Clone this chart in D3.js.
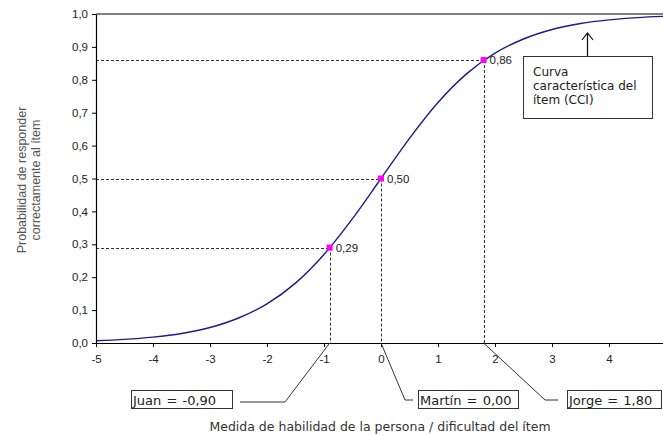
<!DOCTYPE html>
<html>
<head>
<meta charset="utf-8">
<script src="https://cdn.jsdelivr.net/npm/d3@7"></script>
<style>
  body { margin: 0; background: #fff; }
  svg { display: block; }
  .tick text { font-family: "Liberation Sans", Arial, sans-serif; font-size: 11.5px; fill: #222; }
  .box text { font-family: "DejaVu Sans", Verdana, sans-serif; font-size: 12px; fill: #222; }
  .box text.call { font-size: 13px; word-spacing: 1px; }
</style>
</head>
<body>
<div id="chart"></div>
<script>
// size of the picture
var width = 663;
var height = 435;
var margin = { top: 14, right: -3, bottom: 92, left: 96 };

// item characteristic curve
var theta = [-5, -4.5, -4, -3.5, -3, -2.5, -2, -1.5, -1, -0.5, 0, 0.5, 1, 1.5, 2, 2.5, 3, 3.5, 4, 4.5, 5];
var prob = [0.007, 0.011, 0.018, 0.029, 0.047, 0.076, 0.119, 0.182, 0.269, 0.378, 0.5, 0.622, 0.731, 0.818, 0.881, 0.924, 0.953, 0.971, 0.982, 0.989, 0.993];

// the three persons
var personNames = ["Juan", "Martín", "Jorge"];
var personTheta = [-0.9, 0.0, 1.8];
var personProb = [0.29, 0.50, 0.86];
var probLabels = ["0,29", "0,50", "0,86"];
var personLabels = ["Juan = -0,90", "Martín = 0,00", "Jorge = 1,80"];

var xTicks = [-5, -4, -3, -2, -1, 0, 1, 2, 3, 4];
var xTickLabels = ["-5", "-4", "-3", "-2", "-1", "0", "1", "2", "3", "4"];
var yTicks = [0, 0.1, 0.2, 0.3, 0.4, 0.5, 0.6, 0.7, 0.8, 0.9, 1.0];
var yTickLabels = ["0,0", "0,1", "0,2", "0,3", "0,4", "0,5", "0,6", "0,7", "0,8", "0,9", "1,0"];

var svg = d3.select("#chart")
  .append("svg")
  .attr("width", width)
  .attr("height", height);

var x = d3.scaleLinear()
  .domain([-5, 5])
  .range([margin.left, width - margin.right]);

var y = d3.scaleLinear()
  .domain([0, 1])
  .range([height - margin.bottom, margin.top]);

svg.append("clipPath").attr("id", "clip")
  .append("rect")
  .attr("x", margin.left).attr("y", 0)
  .attr("width", width - margin.left).attr("height", height);

// top frame line
svg.append("line")
  .attr("x1", x(-5)).attr("x2", width)
  .attr("y1", y(1)).attr("y2", y(1))
  .attr("stroke", "#000").attr("stroke-width", 1);

// dashed guide lines
var guides = svg.append("g")
  .attr("stroke", "#333")
  .attr("stroke-width", 1)
  .attr("stroke-dasharray", "3,2");

personTheta.forEach(function (t, i) {
  guides.append("line")
    .attr("x1", x(-5)).attr("x2", x(t))
    .attr("y1", Math.round(y(personProb[i])) + 0.5)
    .attr("y2", Math.round(y(personProb[i])) + 0.5);
  guides.append("line")
    .attr("x1", Math.round(x(t)) + 0.5).attr("x2", Math.round(x(t)) + 0.5)
    .attr("y1", y(personProb[i])).attr("y2", y(0));
});

// curve
var line = d3.line()
  .x(function (d, i) { return x(theta[i]); })
  .y(function (d) { return y(d); })
  .curve(d3.curveMonotoneX);

svg.append("path")
  .datum(prob)
  .attr("clip-path", "url(#clip)")
  .attr("d", line)
  .attr("fill", "none")
  .attr("stroke", "#1c1c8c")
  .attr("stroke-width", 1.4);

// axes
var xAxis = svg.append("g")
  .attr("transform", "translate(0," + y(0) + ")")
  .call(d3.axisBottom(x).tickValues(xTicks)
    .tickFormat(function (d, i) { return xTickLabels[i]; })
    .tickSize(4).tickSizeOuter(0).tickPadding(8));
xAxis.select(".domain").attr("d", "M" + x(-5) + ",0.5H" + width);

var yAxis = svg.append("g")
  .attr("transform", "translate(" + x(-5) + ",0)")
  .call(d3.axisLeft(y).tickValues(yTicks)
    .tickFormat(function (d, i) { return yTickLabels[i]; })
    .tickSize(4).tickSizeOuter(0).tickPadding(4));

svg.selectAll(".domain").attr("stroke", "#000").attr("stroke-width", 1.2);
svg.selectAll(".tick line").attr("stroke", "#000");

// magenta markers and value labels
svg.selectAll("rect.pt")
  .data(personTheta)
  .enter()
  .append("rect")
  .attr("class", "pt")
  .attr("x", function (d) { return x(d) - 3; })
  .attr("y", function (d, i) { return y(personProb[i]) - 3; })
  .attr("width", 6).attr("height", 6)
  .attr("fill", "#ff00ff");

svg.selectAll("text.pl")
  .data(probLabels)
  .enter()
  .append("text")
  .attr("class", "pl")
  .attr("x", function (d, i) { return x(personTheta[i]) + 6; })
  .attr("y", function (d, i) { return y(personProb[i]) + 4; })
  .attr("font-family", "Liberation Sans, Arial, sans-serif")
  .attr("font-size", 11.5)
  .attr("fill", "#222")
  .text(function (d) { return d; });

// callout boxes under the x axis
var boxLeft = [131, 418, 567];
var boxWidth = [101, 100, 94];
var bend = [[285, 402], [405, 400], [545, 400]];
var lineEnd = [240, 413, 558];

var callouts = svg.append("g").attr("class", "box");
personTheta.forEach(function (t, i) {
  callouts.append("path")
    .attr("d", "M" + x(t) + "," + y(0) + "L" + bend[i][0] + "," + bend[i][1] + "L" + lineEnd[i] + "," + bend[i][1])
    .attr("fill", "none")
    .attr("stroke", "#333")
    .attr("stroke-width", 1);
  callouts.append("rect")
    .attr("x", boxLeft[i] + 0.5).attr("y", 390.5)
    .attr("width", boxWidth[i]).attr("height", 18)
    .attr("fill", "#fff")
    .attr("stroke", "#333");
  callouts.append("text")
    .attr("class", "call")
    .attr("x", boxLeft[i] + 2).attr("y", 404.5)
    .text(personLabels[i]);
});

// curve label box with arrow
var cci = svg.append("g").attr("class", "box");
cci.append("rect")
  .attr("x", 523.5).attr("y", 56.5)
  .attr("width", 129).attr("height", 62)
  .attr("fill", "#fff").attr("stroke", "#333");
["Curva", "característica del", "ítem (CCI)"].forEach(function (s, i) {
  cci.append("text").attr("x", 533).attr("y", 76 + i * 14).text(s);
});
cci.append("path")
  .attr("d", "M587.5,56V33M582,40L587.5,33L593,40")
  .attr("fill", "none").attr("stroke", "#111").attr("stroke-width", 1.2);

// axis titles
svg.append("text")
  .attr("x", 380).attr("y", 431)
  .attr("text-anchor", "middle")
  .attr("font-family", "DejaVu Sans, Verdana, sans-serif")
  .attr("font-size", 12.5)
  .attr("fill", "#333")
  .text("Medida de habilidad de la persona / dificultad del ítem");

var yt = svg.append("text")
  .attr("transform", "translate(26,180) rotate(-90)")
  .attr("text-anchor", "middle")
  .attr("font-family", "Liberation Sans, Arial, sans-serif")
  .attr("font-size", 12.5)
  .attr("fill", "#555");
yt.append("tspan").attr("x", 0).attr("dy", 0).text("Probabilidad de responder");
yt.append("tspan").attr("x", 0).attr("dy", 14).text("correctamente al ítem");
</script>
</body>
</html>
